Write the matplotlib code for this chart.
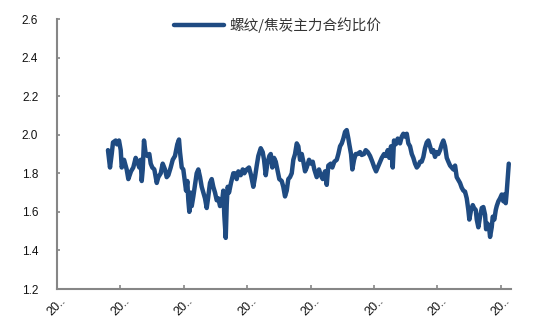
import matplotlib
matplotlib.use("Agg")
import matplotlib.pyplot as plt
from matplotlib.ticker import FormatStrFormatter

# ---- data (x in tick-interval units) ----
t = [0.804, 0.836, 0.863, 0.883, 0.926, 0.946, 0.978, 1.005, 1.021, 1.057,
     1.099, 1.125, 1.167, 1.203, 1.241, 1.267, 1.298, 1.320, 1.336, 1.352,
     1.372, 1.399, 1.424, 1.456, 1.478, 1.503, 1.535, 1.573, 1.598, 1.636,
     1.667, 1.703, 1.730, 1.756, 1.793, 1.825, 1.861, 1.897, 1.924, 1.940,
     1.967, 1.992, 2.019, 2.035, 2.055, 2.071, 2.087, 2.109, 2.125, 2.150,
     2.177, 2.203, 2.229, 2.256, 2.282, 2.308, 2.334, 2.361, 2.386, 2.413,
     2.440, 2.465, 2.492, 2.519, 2.544, 2.571, 2.598, 2.623, 2.639, 2.661,
     2.677, 2.692, 2.713, 2.744, 2.781, 2.808, 2.834, 2.860, 2.897, 2.929,
     2.954, 2.992, 3.028, 3.060, 3.096, 3.123, 3.150, 3.175, 3.213, 3.244,
     3.265, 3.292, 3.317, 3.349, 3.371, 3.396, 3.423, 3.450, 3.475, 3.506,
     3.544, 3.569, 3.596, 3.623, 3.648, 3.675, 3.702, 3.727, 3.754, 3.781,
     3.806, 3.833, 3.860, 3.885, 3.912, 3.938, 3.975, 4.006, 4.033, 4.058,
     4.096, 4.132, 4.159, 4.191, 4.227, 4.254, 4.279, 4.317, 4.342, 4.374,
     4.412, 4.437, 4.464, 4.491, 4.516, 4.543, 4.569, 4.595, 4.610, 4.637,
     4.658, 4.685, 4.711, 4.743, 4.779, 4.806, 4.842, 4.869, 4.901, 4.937,
     4.973, 5.005, 5.032, 5.058, 5.084, 5.122, 5.158, 5.189, 5.216, 5.241,
     5.268, 5.295, 5.315, 5.342, 5.374, 5.410, 5.437, 5.462, 5.489, 5.516,
     5.541, 5.568, 5.595, 5.620, 5.647, 5.674, 5.699, 5.726, 5.752, 5.778,
     5.804, 5.831, 5.856, 5.883, 5.910, 5.935, 5.962, 5.989, 6.014, 6.041,
     6.068, 6.093, 6.120, 6.147, 6.172, 6.199, 6.226, 6.251, 6.278, 6.304,
     6.330, 6.356, 6.383, 6.409, 6.435, 6.462, 6.487, 6.503, 6.530, 6.557,
     6.577, 6.604, 6.620, 6.645, 6.672, 6.699, 6.724, 6.751, 6.767, 6.787,
     6.814, 6.830, 6.856, 6.872, 6.897, 6.920, 6.935, 6.961, 6.987, 7.014,
     7.039, 7.055, 7.077, 7.093, 7.109, 7.125]

ratio = [1.92, 1.83, 1.90, 1.96, 1.97, 1.95, 1.97, 1.92, 1.83, 1.87,
         1.82, 1.77, 1.81, 1.83, 1.88, 1.86, 1.83, 1.87, 1.76, 1.82,
         1.97, 1.90, 1.89, 1.90, 1.85, 1.83, 1.82, 1.75, 1.78, 1.80,
         1.85, 1.82, 1.78, 1.79, 1.83, 1.87, 1.89, 1.95, 1.975, 1.91,
         1.83, 1.82, 1.75, 1.71, 1.76, 1.66, 1.60, 1.70, 1.63, 1.68,
         1.74, 1.80, 1.82, 1.78, 1.73, 1.70, 1.67, 1.62, 1.68, 1.75,
         1.77, 1.73, 1.70, 1.66, 1.67, 1.63, 1.64, 1.71, 1.58, 1.465,
         1.64, 1.73, 1.70, 1.75, 1.80, 1.80, 1.77, 1.81, 1.79, 1.82,
         1.80, 1.82, 1.83, 1.79, 1.73, 1.78, 1.84, 1.89, 1.93, 1.91,
         1.87, 1.79, 1.85, 1.89, 1.90, 1.83, 1.88, 1.86, 1.82, 1.77,
         1.76, 1.73, 1.68, 1.71, 1.77, 1.78, 1.80, 1.87, 1.90, 1.955,
         1.94, 1.87, 1.90, 1.86, 1.81, 1.83, 1.87, 1.85, 1.86, 1.82,
         1.78, 1.82, 1.79, 1.77, 1.81, 1.74, 1.84, 1.85, 1.83, 1.86,
         1.87, 1.90, 1.94, 1.955, 1.98, 2.015, 2.024, 1.98, 1.95, 1.90,
         1.82, 1.87, 1.90, 1.90, 1.91, 1.895, 1.90, 1.92, 1.91, 1.89,
         1.86, 1.83, 1.81, 1.83, 1.85, 1.88, 1.90, 1.89, 1.92, 1.88,
         1.94, 1.83, 1.97, 1.95, 1.98, 1.955, 1.99, 2.005, 1.99, 2.005,
         1.955, 1.94, 1.90, 1.88, 1.85, 1.83, 1.84, 1.86, 1.86, 1.885,
         1.93, 1.96, 1.97, 1.94, 1.91, 1.92, 1.885, 1.91, 1.90, 1.92,
         1.95, 1.97, 1.94, 1.88, 1.86, 1.84, 1.83, 1.82, 1.84, 1.78,
         1.765, 1.75, 1.725, 1.71, 1.705, 1.67, 1.61, 1.56, 1.61, 1.635,
         1.62, 1.61, 1.56, 1.52, 1.575, 1.62, 1.625, 1.585, 1.51, 1.54,
         1.52, 1.47, 1.52, 1.575, 1.56, 1.61, 1.63, 1.655, 1.67, 1.69,
         1.655, 1.69, 1.645, 1.705, 1.78, 1.85]

tick_pos = [0, 1, 2, 3, 4, 5, 6, 7]
tick_labels = ["20.."] * 8
y_ticks = [1.2, 1.4, 1.6, 1.8, 2.0, 2.2, 2.4, 2.6]
series_name = "螺纹/焦炭主力合约比价"

# ---- figure ----
plt.rcParams['font.family'] = ['Liberation Sans', 'Noto Sans CJK SC', 'DejaVu Sans']

fig = plt.figure(figsize=(5.5, 3.21), dpi=100)
ax = fig.add_axes([57/550, 1 - 289/321, (511 - 57)/550, (289 - 19)/321])

line_color = "#1f4b82"
ax.plot(t, ratio, color=line_color, lw=3.2, solid_joinstyle='round',
        solid_capstyle='round', label=series_name)

ax.set_xlim(0, 7.16)
ax.set_ylim(1.2, 2.6)
ax.set_yticks(y_ticks)
ax.yaxis.set_major_formatter(FormatStrFormatter('%.1f'))
ax.set_xticks(tick_pos)
ax.set_xticklabels(tick_labels, rotation=45, ha='center', va='top',
                   fontsize=9)

for s in ['top', 'right']:
    ax.spines[s].set_visible(False)
for s in ['left', 'bottom']:
    ax.spines[s].set_color('#868686')
    ax.spines[s].set_linewidth(1.5)

ax.tick_params(axis='both', direction='in', length=3, width=1.2,
               color='#868686', labelcolor='#111111')
ax.tick_params(axis='y', pad=13.5, length=2, labelsize=8.5)
ax.tick_params(axis='x', pad=4.0)

leg = fig.legend(loc='center', bbox_to_anchor=(0.505, 0.922), frameon=False,
                 handlelength=3.4, handletextpad=0.4,
                 prop={'family': ['Noto Sans CJK SC', 'DejaVu Sans'], 'size': 10.5})
for txt in leg.get_texts():
    txt.set_color('#333333')
for h in leg.get_lines():
    h.set_linewidth(3.2)

fig.savefig("out.png", dpi=100)
